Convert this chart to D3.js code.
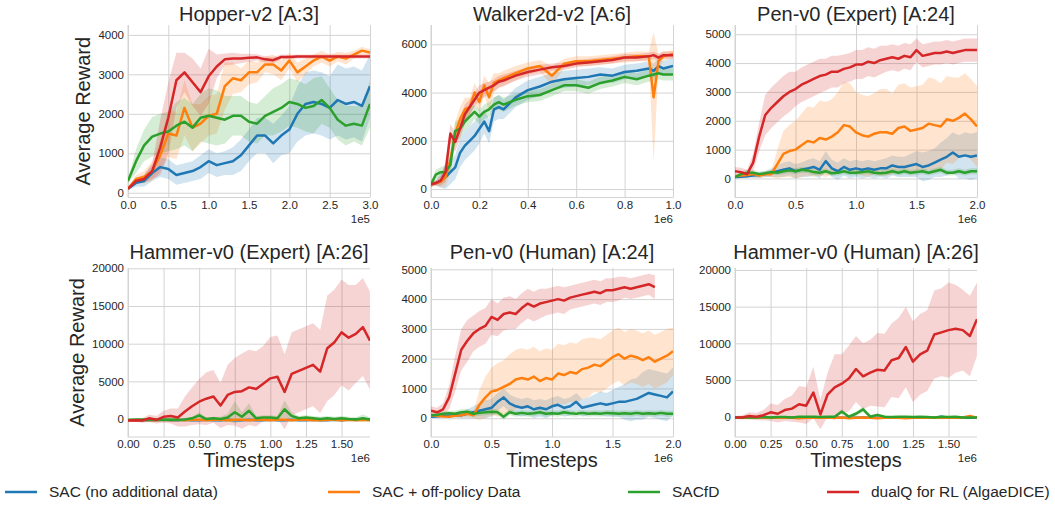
<!DOCTYPE html>
<html><head><meta charset="utf-8">
<script src="https://cdn.jsdelivr.net/npm/d3@7"></script>
<style>body{margin:0;background:#fff} svg{display:block;font-family:"Liberation Sans",Arial,sans-serif}</style>
</head><body><svg id="c" width="1055" height="505"></svg>
<script>
// ---------- DATA ----------
const seriesNames = ["SAC (no additional data)", "SAC + off-policy Data", "SACfD", "dualQ for RL (AlgaeDICE)"];
const colors = ["#1f77b4", "#ff7f0e", "#2ca02c", "#d62728"];

// Hopper-v2 (x in 1e5)
const hopperX = [0,0.1,0.2,0.3,0.4,0.5,0.6,0.7,0.8,0.9,1.0,1.1,1.2,1.3,1.4,1.5,1.6,1.7,1.8,1.9,2.0,2.1,2.2,2.3,2.4,2.5,2.6,2.7,2.8,2.9,3.0];
const hopperSAC   = [100,250,300,500,650,600,450,500,550,650,800,700,750,800,950,1200,1450,1450,1250,1450,1600,2000,2250,2300,2250,2150,2350,2250,2300,2200,2700];
const hopperSACsd = [30,100,150,200,250,250,250,250,250,300,300,300,300,350,400,400,450,450,500,500,600,700,800,800,800,800,900,900,900,900,800];
const hopperOff   = [100,350,400,550,950,1500,1450,2150,1650,1750,1950,2000,2700,2900,2850,3050,3050,3250,3250,3100,3350,3050,3200,3350,3450,3350,3450,3400,3500,3600,3550];
const hopperOffsd = [30,100,150,250,400,600,600,700,600,500,500,500,600,400,300,300,250,200,250,250,200,250,200,150,150,150,120,150,100,100,80];
const hopperFD    = [300,800,1200,1420,1500,1550,1700,1800,1650,1900,1950,1900,1850,1950,1950,1800,1750,1950,2050,2150,2300,2250,2150,2200,2350,2150,1850,1700,1750,1700,2250];
const hopperFDsd  = [50,300,400,500,500,500,600,600,600,600,700,700,600,500,500,500,500,500,600,600,600,600,600,700,600,500,500,500,450,500,600];
const hopperDQ    = [100,300,350,550,1150,1900,2850,3050,2800,2550,2950,3200,3380,3400,3400,3420,3430,3380,3360,3440,3440,3450,3450,3450,3450,3450,3450,3450,3450,3450,3450];
const hopperDQsd  = [30,80,100,200,700,900,700,500,600,600,700,300,150,150,120,100,80,80,80,60,50,50,50,50,50,50,50,50,50,50,50];

// Walker2d-v2 (x in 1e6)
const walkerX = [0,0.02,0.04,0.06,0.08, 0.1,0.12,0.14,0.16,0.18,0.2,0.22,0.24,0.26,0.28,0.3, 0.35,0.4,0.45,0.5,0.55,0.6,0.65,0.7,0.75,0.8,0.85,0.9, 0.92,0.94,0.96,1.0];
const walkerSAC   = [200,250,350,500,700, 900,1500,1800,2000,2200,2500,2800,2400,3300,3400,3300, 3800,4100,4250,4450,4550,4600,4650,4750,4700,4850,4900,5000, 4900,5100,5000,5100];
const walkerSACsd = [100,100,300,500,500, 500,600,600,600,600,600,500,500,500,500,400, 400,400,400,350,350,350,350,300,300,300,300,300, 300,300,300,350];
const walkerOff   = [200,250,300,500,1200, 2300,2900,3300,3400,4000,3600,4300,3800,4400,4500,4600, 4800,5000,5100,4700,5200,5300,5300,5350,5400,5450,5500,5500, 3800,5300,5500,5600];
const walkerOffsd = [100,100,200,400,500, 500,500,500,400,400,400,400,600,400,300,300, 300,250,250,400,200,200,200,200,200,200,200,200, 2700,300,200,150];
const walkerFD    = [200,600,700,700,1000, 2400,2500,2800,3000,3200,3000,3200,3300,3500,3600,3500, 3700,3850,3900,4100,4300,4300,4200,4400,4500,4650,4550,4700, 4750,4800,4750,4750];
const walkerFDsd  = [100,200,200,300,400, 400,400,400,400,300,300,300,300,300,300,300, 250,250,250,250,250,250,250,250,250,250,250,250, 250,250,250,250];
const walkerDQ    = [200,250,350,700,2300, 1950,2500,3100,3400,3700,4000,4100,4200,4300,4450,4500, 4700,4850,4950,5050,5100,5200,5250,5300,5350,5450,5450,5500, 5550,5450,5550,5550];
const walkerDQsd  = [100,100,200,400,400, 400,400,400,300,300,300,300,250,250,250,250, 200,200,200,150,150,150,150,150,150,150,150,150, 150,150,150,150];

// Pen-v0 (x in 1e6)
const penX = [0,0.05,0.1,0.15,0.2,0.25,0.3,0.35,0.4,0.45, 0.5,0.55,0.6,0.65,0.7,0.75,0.8,0.85,0.9,0.95, 1.0,1.05,1.1,1.15,1.2,1.25,1.3,1.35,1.4,1.45, 1.5,1.55,1.6,1.65,1.7,1.75,1.8,1.85,1.9,1.95, 2.0];
const penExpSAC   = [50,60,80,100,120,150,200,250,300,350, 250,300,350,400,300,600,350,250,400,300, 350,300,350,300,350,350,450,400,400,450, 500,400,450,550,650,750,900,750,800,750, 800];
const penExpSACsd = [50,50,50,80,100,100,150,200,250,250, 250,250,300,300,300,350,300,300,300,300, 300,300,300,300,300,350,350,350,350,400, 450,500,500,500,600,650,700,750,800,800, 800];
const penExpOff   = [80,100,120,150,100,150,150,500,850,950, 1000,1150,1300,1250,1400,1350,1450,1600,1850,1800, 1600,1500,1450,1550,1600,1600,1550,1750,1800,1650, 1700,1750,1900,1850,1800,2050,2000,2100,2250,2050, 1800];
const penExpOffsd = [30,50,50,80,80,100,100,500,800,900, 1000,1100,1200,1200,1300,1300,1300,1400,1500,1500, 1400,1400,1400,1400,1500,1500,1400,1500,1500,1500, 1500,1500,1600,1600,1500,1500,1500,1400,1400,1400, 1400];
const penExpFD    = [50,150,200,200,150,180,220,200,250,280, 250,300,280,220,200,250,180,200,250,200, 200,220,250,200,180,200,250,200,250,200, 220,250,200,250,300,200,200,250,200,250, 250];
const penExpFDsd  = [50,80,100,100,80,80,80,80,100,100, 100,100,100,100,100,100,100,100,100,100, 100,100,100,100,100,100,100,100,100,100, 100,100,100,100,100,100,100,100,100,100, 100];
const penExpDQ    = [250,220,150,550,1450,2200,2450,2650,2850,3000, 3100,3250,3350,3450,3550,3600,3700,3700,3800,3850, 3950,3950,4050,4000,4100,4150,4200,4150,4250,4200, 4450,4250,4300,4350,4350,4400,4350,4400,4450,4450, 4450];
const penExpDQsd  = [150,150,150,300,500,700,700,700,700,700, 600,600,600,600,600,550,550,550,500,500, 500,500,500,500,500,450,450,450,450,450, 400,400,400,400,400,400,400,400,400,400, 400];

const penHumSAC   = [50,60,80,80,100,100,150,200,250,300, 350,550,700,500,400,350,400,300,350,300, 400,450,350,400,550,350,400,450,500,450, 500,550,550,600,650,750,850,800,750,700, 900];
const penHumSACsd = [30,30,50,50,80,100,150,200,250,300, 300,300,300,300,300,300,300,300,300,300, 300,300,300,300,300,300,300,350,400,400, 450,500,600,700,700,800,800,800,800,800, 800];
const penHumOff   = [100,80,60,50,80,100,150,100,450,700, 900,950,1050,1150,1300,1350,1300,1400,1250,1350, 1300,1500,1450,1550,1500,1650,1700,1800,1750,1900, 2050,2150,2000,2100,2050,1950,2050,1900,2000,2100, 2250];
const penHumOffsd = [30,30,30,30,50,80,100,100,500,700, 800,900,900,1000,1000,1000,1000,1000,1000,1000, 1000,1000,1000,1000,1000,1000,1000,900,900,900, 900,900,900,900,900,900,900,900,900,900, 800];
const penHumFD    = [100,120,150,170,150,200,220,150,180,200, 220,200,50,200,150,180,150,170,200,150, 170,150,200,170,150,180,150,170,150,180, 170,150,170,150,180,150,170,150,180,150, 150];
const penHumFDsd  = [50,60,80,80,100,100,100,100,100,100, 100,100,100,100,100,100,100,100,100,100, 100,100,100,100,100,100,100,100,100,100, 100,100,100,100,100,100,100,100,100,100, 100];
const penHumDQ    = [250,200,300,700,1500,2300,2600,2850,3000,3100, 3400,3300,3500,3550,3500,3700,3850,3750,3850,3900, 3950,4000,3950,4050,4100,4150,4200,4250,4200,4300, 4300,4350,4400,4350,4400,4450,4500,4400,null,null, null];
const penHumDQsd  = [150,150,200,400,600,700,700,600,600,600, 600,550,550,550,500,500,500,500,500,450, 450,450,450,400,400,400,400,400,400,400, 400,400,350,350,350,350,350,400,null,null, null];

// Hammer-v0 (x in 1e6)
const hamX = [0,0.05,0.1,0.15,0.2,0.25,0.3,0.35,0.4,0.45, 0.5,0.55,0.6,0.65,0.7,0.75,0.8,0.85,0.9,0.95, 1.0,1.05,1.1,1.15,1.2,1.25,1.3,1.35,1.4,1.45, 1.5,1.55,1.6,1.65,1.7];
const hamExpSAC   = [-150,-150,-150,-150,-150,-100,-150,-150,-100,-150, -150,-100,-150,-150,-100,-150,-150,-100,-150,-150, -100,-150,-150,-100,-150,-150,-100,-150,-150,-100, -150,-100,-50,0,-100];
const hamExpSACsd = [150,150,150,150,150,150,150,150,150,150, 150,150,150,150,150,150,150,150,150,150, 150,150,150,150,150,150,150,150,150,150, 150,150,150,150,150];
const hamExpOff   = [-150,-150,-100,-150,-150,-100,-150,-100,-150,-100, -100,-150,-100,-100,-150,-100,-100,-150,-100,-100, -150,-100,-100,-150,-100,-100,-150,-150,-100,-100, -150,-100,-150,-100,-150];
const hamExpOffsd = [100,100,100,100,100,100,100,100,100,100, 100,100,100,100,100,100,100,100,100,100, 100,100,100,100,100,100,100,100,100,100, 100,100,100,100,100];
const hamExpFD    = [-100,-50,-50,-100,-50,-100,-50,-100,-50,100, 500,0,100,0,200,900,300,1100,100,200, 200,100,1300,400,100,200,100,0,100,0, 100,0,-50,100,-50];
const hamExpFDsd  = [50,50,50,50,50,50,50,50,100,200, 400,200,200,300,500,1500,600,1000,300,300, 300,300,1200,500,300,300,300,300,300,300, 300,300,300,500,300];
const hamExpDQ    = [-200,-150,-200,100,-100,300,400,200,1000,1700, 2300,2700,3000,1800,3200,3600,3700,4200,4000,4700, 5400,5600,3600,6000,6400,6800,7200,6300,9400,10200, 11500,10800,11300,12200,10400];
const hamExpDQsd  = [200,200,300,500,500,800,1000,1200,2000,2500, 3000,3500,3500,3000,4000,4500,5000,5000,5000,5000, 5500,5500,5000,5500,5500,5500,5500,5500,7000,7000, 7000,7000,6500,6500,6500];

const hamHumSAC   = [-150,-150,-150,-150,-150,-150,-100,-150,-150,-150, -100,-150,-150,-150,-100,-150,-150,-150,-100,-150, -150,-150,-100,-150,-150,-150,-100,-150,-150,0, -150,-100,-150,-150,-150];
const hamHumSACsd = [150,150,150,150,150,150,150,150,150,150, 150,150,150,150,150,150,150,150,150,150, 150,150,150,150,150,150,150,150,150,150, 150,150,150,150,150];
const hamHumOff   = [-150,-150,-150,-100,-150,-100,-150,-100,-150,-200, -150,-100,-150,-100,-150,-100,-200,-150,-100,-150, -200,-150,-100,-150,-200,-150,-100,-150,-100,-150, -100,-150,-100,100,-150];
const hamHumOffsd = [100,100,100,100,100,100,100,100,100,100, 100,100,100,100,100,100,100,100,100,100, 100,100,100,100,100,100,100,100,100,100, 100,100,100,100,100];
const hamHumFD    = [-100,-100,-100,-100,-50,-100,-50,-50,-100,0, 0,0,-50,0,0,700,0,400,1000,0, 250,0,-50,0,0,-50,0,-50,-100,0, -50,0,-100,-100,-100];
const hamHumFDsd  = [50,50,50,50,50,50,50,50,50,100, 100,100,100,100,100,300,200,300,400,200, 200,200,100,100,100,100,100,100,100,100, 100,100,100,100,100];
const hamHumDQ    = [-100,-100,100,0,200,600,400,900,1100,1700, 1500,3300,300,3000,4000,4500,5200,6500,5500,6000, 6400,6300,7700,8000,9500,7500,8500,9000,11200,11500, 11800,12000,11800,11000,13300];
const hamHumDQsd  = [200,300,500,500,700,1200,1200,1500,1800,2500, 2500,3500,2000,3000,4500,4000,4500,4500,4500,4500, 5000,5000,5000,5500,5500,5500,5500,5500,6000,6000, 6500,6000,5500,5500,5000];

// tick labels
const hopperXTicks = [0, 0.5, 1.0, 1.5, 2.0, 2.5, 3.0];
const walkerXTicks = [0, 0.2, 0.4, 0.6, 0.8, 1.0];
const penXTicks    = [0, 0.5, 1.0, 1.5, 2.0];
const hamXTicks    = [0, 0.25, 0.5, 0.75, 1.0, 1.25, 1.5];
const hopperYTicks = [0, 1000, 2000, 3000, 4000];
const walkerYTicks = [0, 2000, 4000, 6000];
const penYTicks    = [0, 1000, 2000, 3000, 4000, 5000];
const hamYTicks    = [0, 5000, 10000, 15000, 20000];
const titles = ["Hopper-v2 [A:3]", "Walker2d-v2 [A:6]", "Pen-v0 (Expert) [A:24]", "Hammer-v0 (Expert) [A:26]", "Pen-v0 (Human) [A:24]", "Hammer-v0 (Human) [A:26]"];
const offsets = ["1e5", "1e6", "1e6", "1e6", "1e6", "1e6"];

// ---------- PANELS ----------
const panels = [
  {x: hopperX, m: [hopperSAC, hopperOff, hopperFD, hopperDQ], s: [hopperSACsd, hopperOffsd, hopperFDsd, hopperDQsd], xd: [0, 3.0], yd: [-120, 4250], xt: hopperXTicks, xf: ".1f", yt: hopperYTicks, row: 0, col: 0},
  {x: walkerX, m: [walkerSAC, walkerOff, walkerFD, walkerDQ], s: [walkerSACsd, walkerOffsd, walkerFDsd, walkerDQsd], xd: [0, 1.0], yd: [-350, 6800], xt: walkerXTicks, xf: ".1f", yt: walkerYTicks, row: 0, col: 1},
  {x: penX, m: [penExpSAC, penExpOff, penExpFD, penExpDQ], s: [penExpSACsd, penExpOffsd, penExpFDsd, penExpDQsd], xd: [0, 2.0], yd: [-660, 5320], xt: penXTicks, xf: ".1f", yt: penYTicks, row: 0, col: 2},
  {x: hamX, m: [hamExpSAC, hamExpOff, hamExpFD, hamExpDQ], s: [hamExpSACsd, hamExpOffsd, hamExpFDsd, hamExpDQsd], xd: [0, 1.7], yd: [-2380, 20040], xt: hamXTicks, xf: ".2f", yt: hamYTicks, row: 1, col: 0},
  {x: penX, m: [penHumSAC, penHumOff, penHumFD, penHumDQ], s: [penHumSACsd, penHumOffsd, penHumFDsd, penHumDQsd], xd: [0, 2.0], yd: [-630, 5045], xt: penXTicks, xf: ".1f", yt: penYTicks, row: 1, col: 1},
  {x: hamX, m: [hamHumSAC, hamHumOff, hamHumFD, hamHumDQ], s: [hamHumSACsd, hamHumOffsd, hamHumFDsd, hamHumDQsd], xd: [0, 1.7], yd: [-2770, 20270], xt: hamXTicks, xf: ".2f", yt: hamYTicks, row: 1, col: 2}
];

const rows = [{top: 25, bottom: 197.5, titleY: 20.5}, {top: 268, bottom: 437, titleY: 259}];
const cols = [{left: 128, right: 370}, {left: 431, right: 673}, {left: 735, right: 977}];
const textCol = "#262626", gridCol = "#d3d3d3";

const svg = d3.select("#c");
const defs = svg.append("defs");

panels.forEach((p, i) => {
  const r = rows[p.row], c = cols[p.col];
  const w = c.right - c.left, h = r.bottom - r.top;
  const x = d3.scaleLinear().domain(p.xd).range([c.left, c.right]);
  const y = d3.scaleLinear().domain(p.yd).range([r.bottom, r.top]);
  const g = svg.append("g");

  const gx = g.append("g").attr("transform", `translate(0,${r.bottom})`)
    .call(d3.axisBottom(x).tickValues(p.xt).tickFormat(d3.format(p.xf)).tickSize(-h).tickPadding(3));
  const gy = g.append("g").attr("transform", `translate(${c.left},0)`)
    .call(d3.axisLeft(y).tickValues(p.yt).tickFormat(d3.format("d")).tickSize(-w).tickPadding(4));
  [gx, gy].forEach(a => {
    a.select(".domain").remove();
    a.selectAll(".tick line").attr("stroke", gridCol).attr("stroke-width", 1);
    a.selectAll(".tick text").attr("fill", textCol).attr("font-size", 11.5)
      .attr("font-family", '"Liberation Sans", Arial, sans-serif');
  });
  g.append("line").attr("x1", c.left).attr("x2", c.left).attr("y1", r.top).attr("y2", r.bottom).attr("stroke", gridCol);
  g.append("line").attr("x1", c.left).attr("x2", c.right).attr("y1", r.bottom).attr("y2", r.bottom).attr("stroke", gridCol);

  const cid = "clip" + i;
  defs.append("clipPath").attr("id", cid).append("rect").attr("x", c.left).attr("y", r.top).attr("width", w).attr("height", h);
  const plot = g.append("g").attr("clip-path", `url(#${cid})`);
  const bandLayer = plot.append("g"), lineLayer = plot.append("g");

  p.m.forEach((mean, k) => {
    const data = p.x.map((xv, j) => ({x: xv, m: mean[j], s: p.s[k][j]}));
    const def = d => d.m !== null && d.m !== undefined;
    const area = d3.area().defined(def).x(d => x(d.x)).y0(d => y(d.m - d.s)).y1(d => y(d.m + d.s));
    const line = d3.line().defined(def).x(d => x(d.x)).y(d => y(d.m));
    bandLayer.append("path").datum(data).attr("d", area).attr("fill", colors[k]).attr("fill-opacity", 0.2).attr("stroke", "none");
    lineLayer.append("path").datum(data).attr("d", line).attr("fill", "none").attr("stroke", colors[k])
      .attr("stroke-width", 2.5).attr("stroke-linejoin", "round");
  });

  g.append("text").attr("x", (c.left + c.right) / 2).attr("y", r.titleY).attr("text-anchor", "middle")
    .attr("font-size", 20).attr("fill", textCol).text(titles[i]);
  g.append("text").attr("x", c.right).attr("y", r.bottom + 25).attr("text-anchor", "end")
    .attr("font-size", 11.5).attr("fill", textCol).text(offsets[i]);
  if (p.col === 0) {
    const lx = p.row === 0 ? 90 : 84;
    g.append("text").attr("transform", `translate(${lx},${(r.top + r.bottom) / 2}) rotate(-90)`)
      .attr("text-anchor", "middle").attr("font-size", 20).attr("fill", textCol).text("Average Reward");
  }
  if (p.row === 1) {
    g.append("text").attr("x", (c.left + c.right) / 2).attr("y", 467).attr("text-anchor", "middle")
      .attr("font-size", 20).attr("fill", textCol).text("Timesteps");
  }
});

const legX = [5, 328, 628, 827];
const leg = svg.append("g");
seriesNames.forEach((n, k) => {
  leg.append("line").attr("x1", legX[k]).attr("x2", legX[k] + 32).attr("y1", 492).attr("y2", 492)
    .attr("stroke", colors[k]).attr("stroke-width", 2.5);
  leg.append("text").attr("x", legX[k] + 44).attr("y", 492).attr("dy", "0.35em")
    .attr("font-size", 15.5).attr("fill", textCol).text(n);
});
</script></body></html>
